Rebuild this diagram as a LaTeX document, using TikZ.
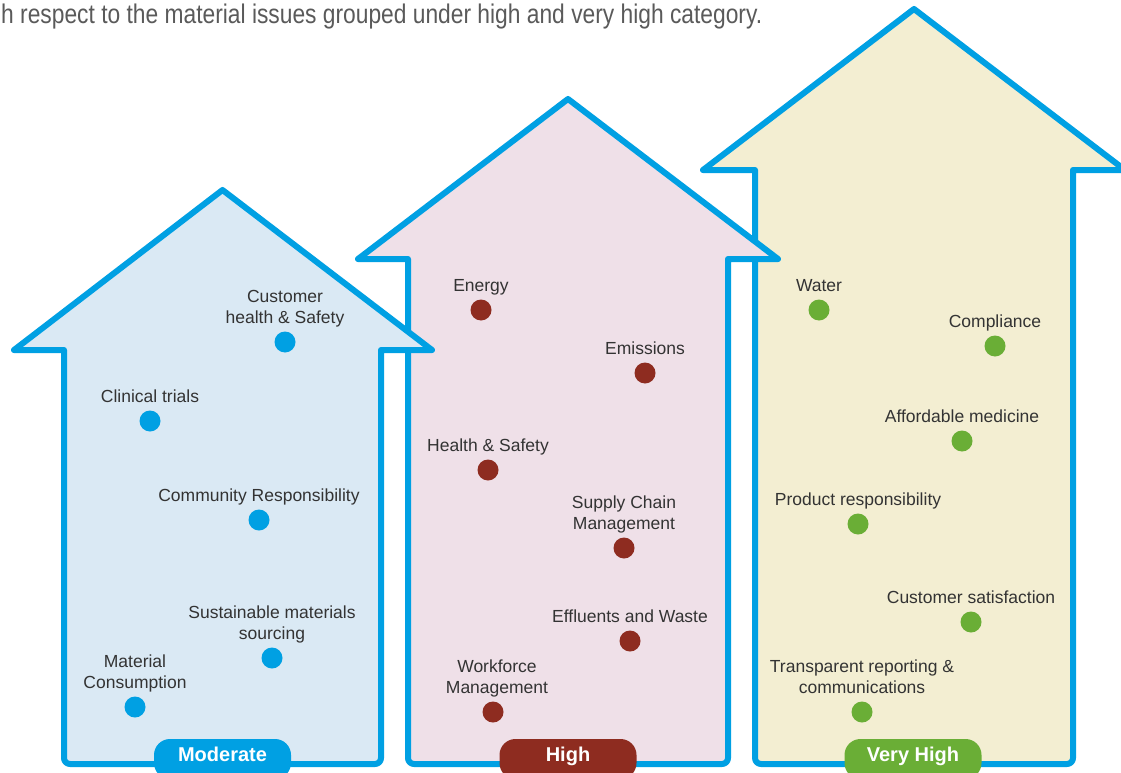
\documentclass[tikz,border=0pt]{standalone}
\usepackage{fontspec}
\setmainfont{Liberation Sans}
\usetikzlibrary{positioning}
\definecolor{cblue}{RGB}{0,160,227}
\definecolor{fillA}{RGB}{218,233,244}
\definecolor{fillB}{RGB}{239,224,232}
\definecolor{fillC}{RGB}{243,238,210}
\definecolor{cred}{RGB}{142,44,32}
\definecolor{cgreen}{RGB}{106,174,54}
\definecolor{ctext}{RGB}{51,51,51}
\definecolor{cgray}{RGB}{90,90,90}
\tikzset{
  arrowline/.style={draw=cblue, line width=6pt, line join=round},
  dotbase/.style={circle, inner sep=0pt, minimum size=21pt},
  dotA/.style={dotbase, fill=cblue},
  dotB/.style={dotbase, fill=cred},
  dotC/.style={dotbase, fill=cgreen},
  lbl/.style={text=ctext, align=center, inner sep=0pt, text depth=0pt,
    font=\fontsize{17.5}{21}\selectfont},
  pill/.style={rounded corners=16pt, minimum width=137pt, minimum height=40pt,
    inner sep=0pt, text=white, text height=0.72em, text depth=0.2em,
    font=\bfseries\fontsize{20}{24}\selectfont},
}
\begin{document}
\begin{tikzpicture}[x=1pt, y=-1pt]
\useasboundingbox (0,0) rectangle (1121,773);
\fill[white] (0,0) rectangle (1121,773);
% top text
\node[anchor=base west, inner sep=0pt, text=cgray] (toptext) at (1,24)
  {\resizebox{761pt}{\height}{\fontsize{27}{27}\selectfont h respect to the material issues grouped under high and very high category.}};
% arrows (back to front)
\filldraw[arrowline, fill=fillC] (755,500) -- (755,170) -- (703,170) -- (914,9) -- (1125,170) -- (1073,170) -- (1073,500) [rounded corners=6pt] -- (1073,764) -- (755,764) -- cycle;
\filldraw[arrowline, fill=fillB] (408,500) -- (408,259) -- (358,259) -- (568,99) -- (778,259) -- (728,259) -- (728,500) [rounded corners=6pt] -- (728,764) -- (408,764) -- cycle;
\filldraw[arrowline, fill=fillA] (64,500) -- (64,350) -- (14,350) -- (222.5,190) -- (432,350) -- (381,350) -- (381,500) [rounded corners=6pt] -- (381,764) -- (64,764) -- cycle;
% Moderate
\node[dotA] (a1) at (285,342) {};
\node[lbl, above=8pt of a1] (la1) {Customer\\health \& Safety};
\node[dotA] (a2) at (150,421) {};
\node[lbl, above=8pt of a2] (la2) {Clinical trials};
\node[dotA] (a3) at (259,520) {};
\node[lbl, above=8pt of a3] (la3) {Community Responsibility};
\node[dotA] (a4) at (272,658) {};
\node[lbl, above=8pt of a4] (la4) {Sustainable materials\\sourcing};
\node[dotA] (a5) at (135,707) {};
\node[lbl, above=8pt of a5] (la5) {Material\\Consumption};
% High
\node[dotB] (b1) at (481,310) {};
\node[lbl, above=8pt of b1] (lb1) {Energy};
\node[dotB] (b2) at (645,373) {};
\node[lbl, above=8pt of b2] (lb2) {Emissions};
\node[dotB] (b3) at (488,470) {};
\node[lbl, above=8pt of b3] (lb3) {Health \& Safety};
\node[dotB] (b4) at (624,548) {};
\node[lbl, above=8pt of b4] (lb4) {Supply Chain\\Management};
\node[dotB] (b5) at (630,641) {};
\node[lbl, above=8pt of b5] (lb5) {Effluents and Waste};
\node[dotB] (b6) at (493,712) {};
\node[lbl, above=8pt of b6, xshift=4pt] (lb6) {Workforce\\Management};
% Very High
\node[dotC] (c1) at (819,310) {};
\node[lbl, above=8pt of c1] (lc1) {Water};
\node[dotC] (c2) at (995,346) {};
\node[lbl, above=8pt of c2] (lc2) {Compliance};
\node[dotC] (c3) at (962,441) {};
\node[lbl, above=8pt of c3] (lc3) {Affordable medicine};
\node[dotC] (c4) at (858,524) {};
\node[lbl, above=8pt of c4] (lc4) {Product responsibility};
\node[dotC] (c5) at (971,622) {};
\node[lbl, above=8pt of c5] (lc5) {Customer satisfaction};
\node[dotC] (c6) at (862,712) {};
\node[lbl, above=8pt of c6] (lc6) {Transparent reporting \&\\communications};
% pills
\node[pill, fill=cblue] (p1) at (222.5,759) {Moderate};
\node[pill, fill=cred] (p2) at (568,759) {High};
\node[pill, fill=cgreen] (p3) at (913,759) {Very High};
\end{tikzpicture}
\end{document}
